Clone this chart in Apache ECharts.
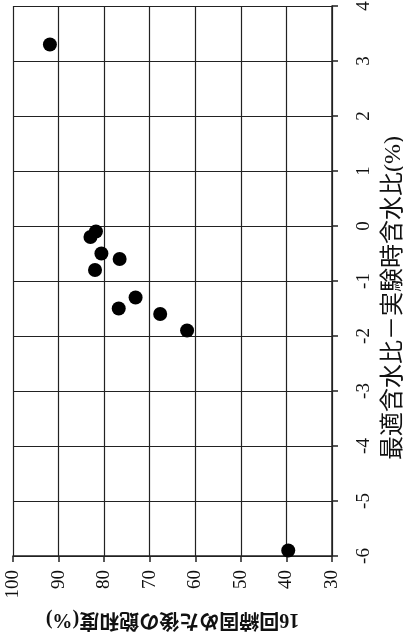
<!DOCTYPE html>
<html>
<head>
<meta charset="utf-8">
<script src="https://cdn.jsdelivr.net/npm/echarts@6/dist/echarts.min.js"></script>
<style>
html,body{margin:0;padding:0;background:#fff;}
#chart{width:403px;height:644px;}
</style>
</head>
<body>
<div id="chart"></div>
<script>
// 16回締固めた後の飽和度(%) (horizontal axis, reversed)
const saturation = [91.9, 81.8, 83.0, 80.6, 76.6, 82.0, 73.1, 76.8, 67.7, 61.8, 39.6];
// 最適含水比－実験時含水比(%) (vertical axis)
const waterDiff = [3.3, -0.1, -0.2, -0.5, -0.6, -0.8, -1.3, -1.5, -1.6, -1.9, -5.9];
const xTicks = [30, 40, 50, 60, 70, 80, 90, 100];
const yTicks = [-6, -5, -4, -3, -2, -1, 0, 1, 2, 3, 4];
const xName = '16回締固めた後の飽和度(%)';
const yName = '最適含水比－実験時含水比(%)';

const points = saturation.map((v, i) => [v, waterDiff[i]]);
const serif = '"Liberation Serif", "Noto Sans CJK JP", serif';
const lineCol = '#222';

const chart = echarts.init(document.getElementById('chart'));
chart.setOption({
  animation: false,
  backgroundColor: '#fff',
  grid: { left: 13, right: 71, top: 6, bottom: 88, containLabel: false, outerBoundsMode: 'none' },
  xAxis: {
    type: 'value',
    min: xTicks[0], max: xTicks[xTicks.length - 1], interval: 10,
    inverse: true,
    position: 'bottom',
    axisLine: { show: true, onZero: false, lineStyle: { color: lineCol, width: 1.5 } },
    axisTick: { show: true, inside: false, length: 6, lineStyle: { color: lineCol, width: 1.5 } },
    splitLine: { show: true, lineStyle: { color: lineCol, width: 1.2 } },
    axisLabel: { rotate: 90, margin: 14, fontFamily: serif, fontSize: 19, color: '#111' },
    name: xName,
    nameLocation: 'middle',
    nameRotate: 180,
    nameGap: 53,
    nameTextStyle: { fontFamily: serif, fontSize: 20, fontWeight: 'bold', color: '#111' }
  },
  yAxis: {
    type: 'value',
    min: yTicks[0], max: yTicks[yTicks.length - 1], interval: 1,
    position: 'right',
    axisLine: { show: true, onZero: false, lineStyle: { color: lineCol, width: 1.5 } },
    axisTick: { show: true, inside: false, length: 6, lineStyle: { color: lineCol, width: 1.5 } },
    splitLine: { show: true, lineStyle: { color: lineCol, width: 1.2 } },
    axisLabel: { rotate: 90, margin: 23, fontFamily: serif, fontSize: 19, color: '#111' },
    name: yName,
    nameLocation: 'middle',
    nameRotate: 90,
    nameGap: 46,
    nameTextStyle: { fontFamily: serif, fontSize: 24, color: '#111', padding: [0, 34, 0, 0] }
  },
  series: [{
    type: 'scatter',
    data: points,
    symbol: 'circle',
    symbolSize: 14,
    itemStyle: { color: '#000', opacity: 1 }
  }]
});
</script>
</body>
</html>
